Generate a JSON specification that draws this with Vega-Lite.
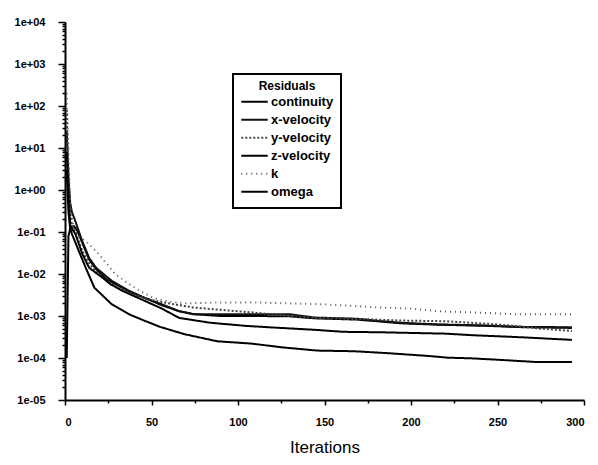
{
  "$schema": "https://vega.github.io/schema/vega-lite/v6.json",
  "width": 519,
  "height": 378,
  "autosize": {"type": "none"},
  "padding": {"left": 65, "top": 22, "right": 14, "bottom": 65},
  "background": "white",
  "config": {
    "view": {"stroke": null},
    "font": "Liberation Sans",
    "legend": {"strokeWidth": 2},
    "axis": {"domainColor": "black", "domainWidth": 2, "tickColor": "black", "tickWidth": 1.5, "grid": false, "labelColor": "black", "labelFont": "Liberation Sans", "labelFontWeight": "bold", "labelFontSize": 11, "labelOverlap": false}
  },
  "data": {"values": [
    {"s":"continuity","i":1,"v":0.0001},{"s":"continuity","i":2,"v":0.08},{"s":"continuity","i":3,"v":0.12},{"s":"continuity","i":5,"v":0.14},{"s":"continuity","i":7,"v":0.11},{"s":"continuity","i":10,"v":0.055},{"s":"continuity","i":14,"v":0.022},{"s":"continuity","i":18,"v":0.013},{"s":"continuity","i":24,"v":0.0075},{"s":"continuity","i":30,"v":0.0055},{"s":"continuity","i":37,"v":0.0038},{"s":"continuity","i":47,"v":0.0026},{"s":"continuity","i":56,"v":0.0018},{"s":"continuity","i":66,"v":0.0013},{"s":"continuity","i":75,"v":0.0011},{"s":"continuity","i":90,"v":0.001},{"s":"continuity","i":110,"v":0.001},{"s":"continuity","i":130,"v":0.00098},{"s":"continuity","i":144,"v":0.00088},{"s":"continuity","i":169,"v":0.00082},{"s":"continuity","i":182,"v":0.00074},{"s":"continuity","i":194,"v":0.00067},{"s":"continuity","i":216,"v":0.00062},{"s":"continuity","i":245,"v":0.00058},{"s":"continuity","i":265,"v":0.00054},{"s":"continuity","i":293,"v":0.00052},
    {"s":"x-velocity","i":1,"v":25},{"s":"x-velocity","i":2,"v":2},{"s":"x-velocity","i":3,"v":0.5},{"s":"x-velocity","i":4,"v":0.3},{"s":"x-velocity","i":6,"v":0.18},{"s":"x-velocity","i":10,"v":0.06},{"s":"x-velocity","i":14,"v":0.024},{"s":"x-velocity","i":18,"v":0.014},{"s":"x-velocity","i":27,"v":0.0069},{"s":"x-velocity","i":37,"v":0.004},{"s":"x-velocity","i":46,"v":0.0027},{"s":"x-velocity","i":56,"v":0.0019},{"s":"x-velocity","i":66,"v":0.0013},{"s":"x-velocity","i":74,"v":0.0011},{"s":"x-velocity","i":90,"v":0.0011},{"s":"x-velocity","i":110,"v":0.0011},{"s":"x-velocity","i":130,"v":0.0011},{"s":"x-velocity","i":144,"v":0.00092},{"s":"x-velocity","i":169,"v":0.00086},{"s":"x-velocity","i":182,"v":0.00076},{"s":"x-velocity","i":194,"v":0.00069},{"s":"x-velocity","i":216,"v":0.00063},{"s":"x-velocity","i":240,"v":0.0006},{"s":"x-velocity","i":265,"v":0.00055},{"s":"x-velocity","i":293,"v":0.00054},
    {"s":"y-velocity","i":1,"v":80},{"s":"y-velocity","i":2,"v":2},{"s":"y-velocity","i":3,"v":0.3},{"s":"y-velocity","i":4,"v":0.15},{"s":"y-velocity","i":6,"v":0.1},{"s":"y-velocity","i":10,"v":0.035},{"s":"y-velocity","i":14,"v":0.018},{"s":"y-velocity","i":18,"v":0.011},{"s":"y-velocity","i":25,"v":0.0065},{"s":"y-velocity","i":32,"v":0.0045},{"s":"y-velocity","i":40,"v":0.0032},{"s":"y-velocity","i":50,"v":0.0024},{"s":"y-velocity","i":60,"v":0.002},{"s":"y-velocity","i":74,"v":0.0016},{"s":"y-velocity","i":90,"v":0.0014},{"s":"y-velocity","i":110,"v":0.0012},{"s":"y-velocity","i":130,"v":0.001},{"s":"y-velocity","i":144,"v":0.0009},{"s":"y-velocity","i":170,"v":0.00085},{"s":"y-velocity","i":194,"v":0.00078},{"s":"y-velocity","i":220,"v":0.00075},{"s":"y-velocity","i":245,"v":0.00065},{"s":"y-velocity","i":260,"v":0.00058},{"s":"y-velocity","i":275,"v":0.0005},{"s":"y-velocity","i":293,"v":0.00044},
    {"s":"z-velocity","i":1,"v":8},{"s":"z-velocity","i":2,"v":0.8},{"s":"z-velocity","i":3,"v":0.15},{"s":"z-velocity","i":4,"v":0.12},{"s":"z-velocity","i":6,"v":0.09},{"s":"z-velocity","i":10,"v":0.03},{"s":"z-velocity","i":14,"v":0.014},{"s":"z-velocity","i":22,"v":0.008},{"s":"z-velocity","i":26,"v":0.0058},{"s":"z-velocity","i":33,"v":0.004},{"s":"z-velocity","i":46,"v":0.0023},{"s":"z-velocity","i":56,"v":0.0015},{"s":"z-velocity","i":66,"v":0.0009},{"s":"z-velocity","i":84,"v":0.00069},{"s":"z-velocity","i":105,"v":0.00058},{"s":"z-velocity","i":121,"v":0.00053},{"s":"z-velocity","i":144,"v":0.00047},{"s":"z-velocity","i":161,"v":0.00042},{"s":"z-velocity","i":182,"v":0.00041},{"s":"z-velocity","i":194,"v":0.0004},{"s":"z-velocity","i":220,"v":0.00038},{"s":"z-velocity","i":235,"v":0.00035},{"s":"z-velocity","i":265,"v":0.00031},{"s":"z-velocity","i":293,"v":0.00027},
    {"s":"k","i":1,"v":200},{"s":"k","i":2,"v":8},{"s":"k","i":3,"v":0.4},{"s":"k","i":5,"v":0.12},{"s":"k","i":8,"v":0.08},{"s":"k","i":13,"v":0.055},{"s":"k","i":18,"v":0.035},{"s":"k","i":23,"v":0.02},{"s":"k","i":29,"v":0.01},{"s":"k","i":37,"v":0.0058},{"s":"k","i":43,"v":0.004},{"s":"k","i":51,"v":0.0027},{"s":"k","i":60,"v":0.0022},{"s":"k","i":70,"v":0.002},{"s":"k","i":90,"v":0.0021},{"s":"k","i":110,"v":0.0021},{"s":"k","i":130,"v":0.002},{"s":"k","i":150,"v":0.0019},{"s":"k","i":170,"v":0.0017},{"s":"k","i":182,"v":0.0016},{"s":"k","i":200,"v":0.0015},{"s":"k","i":215,"v":0.0013},{"s":"k","i":240,"v":0.0012},{"s":"k","i":260,"v":0.0011},{"s":"k","i":293,"v":0.0011},
    {"s":"omega","i":1,"v":3},{"s":"omega","i":2,"v":0.3},{"s":"omega","i":3,"v":0.12},{"s":"omega","i":4,"v":0.09},{"s":"omega","i":8,"v":0.035},{"s":"omega","i":12,"v":0.014},{"s":"omega","i":17,"v":0.0047},{"s":"omega","i":22,"v":0.003},{"s":"omega","i":27,"v":0.0019},{"s":"omega","i":37,"v":0.0011},{"s":"omega","i":46,"v":0.00077},{"s":"omega","i":55,"v":0.00055},{"s":"omega","i":69,"v":0.00037},{"s":"omega","i":88,"v":0.00025},{"s":"omega","i":108,"v":0.00022},{"s":"omega","i":125,"v":0.00018},{"s":"omega","i":146,"v":0.00015},{"s":"omega","i":167,"v":0.000145},{"s":"omega","i":187,"v":0.00013},{"s":"omega","i":210,"v":0.000112},{"s":"omega","i":221,"v":0.000102},{"s":"omega","i":235,"v":0.000098},{"s":"omega","i":250,"v":0.000091},{"s":"omega","i":273,"v":0.00008},{"s":"omega","i":293,"v":0.00008}
  ]},
  "mark": {"type": "line", "interpolate": "linear", "strokeJoin": "round"},
  "encoding": {
    "x": {
      "field": "i", "type": "quantitative",
      "scale": {"domain": [0, 300], "nice": false},
      "axis": {
        "title": "Iterations", "titleFont": "Liberation Sans", "titleFontSize": 17, "titleFontWeight": "normal", "titleColor": "black", "titlePadding": 12,
        "values": [0,25,50,75,100,125,150,175,200,225,250,275,300],
        "labelExpr": "datum.value % 50 == 0 ? datum.label : ''",
        "tickSize": {"condition": {"test": "datum.value % 50 == 0", "value": 5}, "value": 3},
        "labelPadding": 11
      }
    },
    "y": {
      "field": "v", "type": "quantitative",
      "scale": {"type": "log", "domain": [0.00001, 10000], "nice": false},
      "axis": {
        "title": null,
        "values": [1e-5,2e-5,3e-5,4e-5,5e-5,6e-5,7e-5,8e-5,9e-5,1e-4,2e-4,3e-4,4e-4,5e-4,6e-4,7e-4,8e-4,9e-4,1e-3,2e-3,3e-3,4e-3,5e-3,6e-3,7e-3,8e-3,9e-3,1e-2,2e-2,3e-2,4e-2,5e-2,6e-2,7e-2,8e-2,9e-2,0.1,0.2,0.3,0.4,0.5,0.6,0.7,0.8,0.9,1,2,3,4,5,6,7,8,9,10,20,30,40,50,60,70,80,90,100,200,300,400,500,600,700,800,900,1000,2000,3000,4000,5000,6000,7000,8000,9000,10000],
        "labelExpr": "abs(log(datum.value)/LN10 - round(log(datum.value)/LN10)) < 0.001 ? ('1e' + (round(log(datum.value)/LN10) < 0 ? '-' : '+') + '0' + abs(round(log(datum.value)/LN10))) : ''",
        "tickSize": {"condition": {"test": "abs(log(datum.value)/LN10 - round(log(datum.value)/LN10)) < 0.001", "value": 7}, "value": 3},
        "labelPadding": 13
      }
    },
    "color": {
      "field": "s", "type": "nominal",
      "scale": {"domain": ["continuity","x-velocity","y-velocity","z-velocity","k","omega"], "range": ["#000000","#111111","#444444","#000000","#555555","#000000"]},
      "legend": {
        "title": "Residuals", "orient": "none", "legendX": 168, "legendY": 52,
        "symbolType": "stroke", "symbolSize": 700, "symbolStrokeWidth": 1.5,
        "strokeColor": "black", "padding": 7, "fillColor": "white",
        "titleAnchor": "middle", "titleAlign": "center", "titleFont": "Liberation Sans", "titleFontSize": 12, "titleFontWeight": "bold", "titleColor": "black", "titlePadding": 0,
        "labelFont": "Liberation Sans", "labelFontSize": 13, "labelFontWeight": "bold", "labelColor": "black", "labelOffset": 2,
        "clipHeight": 17.5, "rowPadding": 0
      }
    },
    "strokeDash": {
      "field": "s", "type": "nominal",
      "scale": {"domain": ["continuity","x-velocity","y-velocity","z-velocity","k","omega"], "range": [[1,0],[1,0],[2,2],[1,0],[1,4],[1,0]]}
    },
    "strokeWidth": {
      "field": "s", "type": "nominal",
      "scale": {"domain": ["continuity","x-velocity","y-velocity","z-velocity","k","omega"], "range": [2,2,1.5,2.5,1.5,2.5]}
    }
  }
}
